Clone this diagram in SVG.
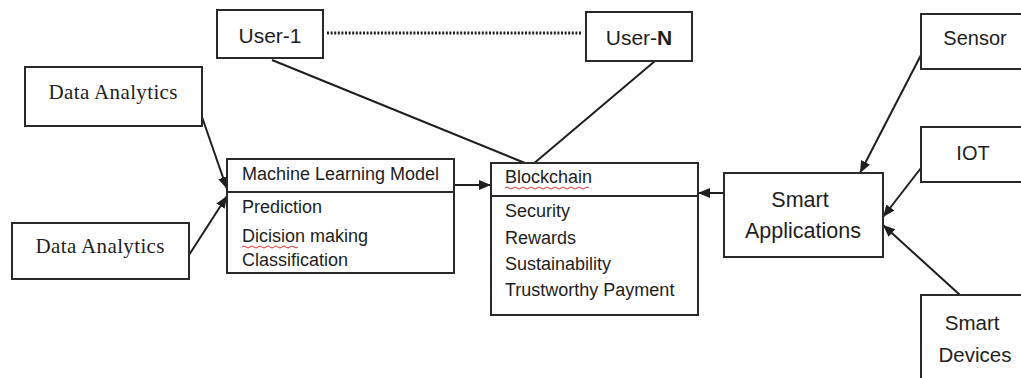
<svg xmlns="http://www.w3.org/2000/svg" width="1021" height="378" viewBox="0 0 1021 378">
  <style>
    .box { fill: #ffffff; stroke: #2a2a2a; stroke-width: 2; }
    .sep { stroke: #2a2a2a; stroke-width: 2; }
    .sans { font-family: "Liberation Sans", Arial, sans-serif; fill: #1e1e1e; }
    .serif { font-family: "Liberation Serif", "Times New Roman", serif; fill: #1e1e1e; }
    .link { stroke: #1e1e1e; stroke-width: 2; fill: none; }
    .arrow { marker-end: url(#head); }
    .dots { stroke: #1e1e1e; stroke-width: 3; stroke-dasharray: 2 1.6; fill: none; }
    .squiggle { stroke: #d03030; stroke-width: 1; fill: none; }
  </style>
  <defs>
    <marker id="head" markerUnits="userSpaceOnUse" markerWidth="13" markerHeight="11" refX="12" refY="5" orient="auto">
      <path d="M0,0 L12,5 L0,10 z" fill="#1e1e1e"/>
    </marker>
  </defs>

  <rect width="1021" height="378" fill="#ffffff"/>

  <!-- connectors -->
  <g id="connectors">
    <line class="dots" x1="327" y1="33" x2="582" y2="33"/>
    <line class="link" x1="272" y1="60" x2="530" y2="165"/>
    <line class="link" x1="655" y1="61" x2="532" y2="165"/>
    <line class="link arrow" x1="202" y1="117" x2="227" y2="189"/>
    <line class="link arrow" x1="189" y1="255" x2="227" y2="196"/>
    <line class="link arrow" x1="454" y1="185" x2="491" y2="185"/>
    <line class="link arrow" x1="724" y1="193" x2="698" y2="193"/>
    <line class="link arrow" x1="921" y1="55" x2="860" y2="173"/>
    <line class="link arrow" x1="921" y1="168" x2="883" y2="217"/>
    <line class="link arrow" x1="960" y1="295" x2="883" y2="225"/>
  </g>

  <!-- users -->
  <g id="user-1">
    <rect class="box" x="217" y="10" width="106" height="48"/>
    <text class="sans" x="270" y="43" font-size="21" text-anchor="middle">User-1</text>
  </g>
  <g id="user-n">
    <rect class="box" x="586" y="12" width="106" height="49"/>
    <text class="sans" x="639" y="45" font-size="21" text-anchor="middle">User-<tspan font-weight="bold">N</tspan></text>
  </g>

  <!-- analytics sources -->
  <g id="data-analytics-1">
    <rect class="box" x="25" y="67" width="177" height="59"/>
    <text class="serif" x="113" y="99" font-size="21" text-anchor="middle" textLength="129">Data Analytics</text>
  </g>
  <g id="data-analytics-2">
    <rect class="box" x="12" y="223" width="177" height="56"/>
    <text class="serif" x="100" y="253" font-size="21" text-anchor="middle" textLength="129">Data Analytics</text>
  </g>

  <!-- machine learning model -->
  <g id="ml-model">
    <rect class="box" x="227" y="159" width="227" height="114"/>
    <line class="sep" x1="227" y1="192" x2="454" y2="192"/>
    <text class="sans" font-size="18">
      <tspan x="242" y="180">Machine Learning Model</tspan>
      <tspan x="242" y="213">Prediction</tspan>
      <tspan x="242" y="242">Dicision making</tspan>
      <tspan x="242" y="266">Classification</tspan>
    </text>
    <path class="squiggle" d="M242,247 q2,-2 4,0 t4,0 t4,0 t4,0 t4,0 t4,0 t4,0 t4,0 t4,0 t4,0 t4,0 t4,0 t4,0 t4,0"/>
  </g>

  <!-- blockchain -->
  <g id="blockchain">
    <rect class="box" x="491" y="163" width="207" height="152"/>
    <line class="sep" x1="491" y1="196" x2="698" y2="196"/>
    <text class="sans" font-size="18">
      <tspan x="505" y="183">Blockchain</tspan>
      <tspan x="505" y="217">Security</tspan>
      <tspan x="505" y="244">Rewards</tspan>
      <tspan x="505" y="270">Sustainability</tspan>
      <tspan x="505" y="296">Trustworthy Payment</tspan>
    </text>
    <path class="squiggle" d="M505,188 q2,-2 4,0 t4,0 t4,0 t4,0 t4,0 t4,0 t4,0 t4,0 t4,0 t4,0 t4,0 t4,0 t4,0 t4,0 t4,0 t4,0 t4,0 t4,0 t4,0 t4,0 t4,0"/>
  </g>

  <!-- smart applications -->
  <g id="smart-applications">
    <rect class="box" x="724" y="173" width="159" height="84"/>
    <text class="sans" font-size="21.5" text-anchor="middle">
      <tspan x="803" y="207">Smart</tspan>
      <tspan x="803" y="238">Applications</tspan>
    </text>
  </g>

  <!-- device sources -->
  <g id="sensor">
    <rect class="box" x="921" y="14" width="110" height="55"/>
    <text class="sans" x="975" y="45" font-size="20" text-anchor="middle">Sensor</text>
  </g>
  <g id="iot">
    <rect class="box" x="921" y="127" width="110" height="55"/>
    <text class="sans" x="973" y="160" font-size="20" text-anchor="middle">IOT</text>
  </g>
  <g id="smart-devices">
    <rect class="box" x="921" y="295" width="110" height="100"/>
    <text class="sans" font-size="20.5" text-anchor="middle">
      <tspan x="975" y="330">Smart</tspan>
      <tspan x="975" y="362">Devices</tspan>
    </text>
  </g>
</svg>
